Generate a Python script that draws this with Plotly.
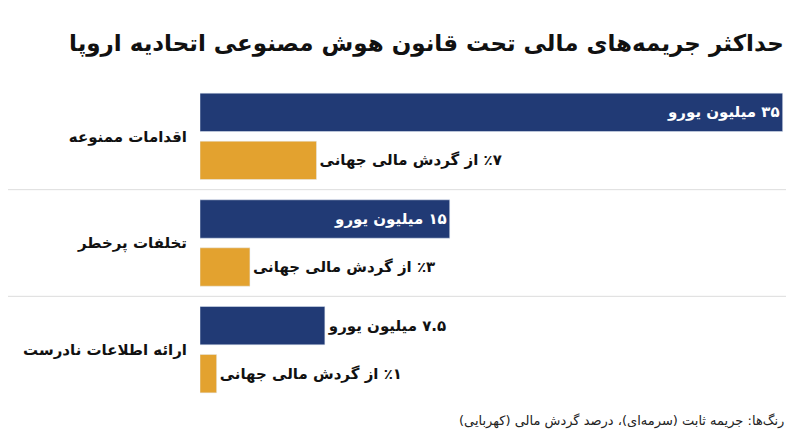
import plotly.graph_objects as go

# data
categories = ["اقدامات ممنوعه", "تخلفات پرخطر", "ارائه اطلاعات نادرست"]
fixed_fine = [35, 15, 7.5]          # million euro
turnover_pct = [7, 3, 1]            # percent of global turnover
fixed_labels = ["۳۵ میلیون یورو", "۱۵ میلیون یورو", "۷.۵ میلیون یورو"]
pct_labels = ["٪۷ از گردش مالی جهانی", "٪۳ از گردش مالی جهانی", "٪۱ از گردش مالی جهانی"]

NAVY = "#213a75"
AMBER = "#e3a22f"
FONT = "DejaVu Sans, Noto Sans, sans-serif"
RLM = "\u200f"

pos = list(range(len(categories)))
fig = go.Figure()

fig.add_trace(go.Bar(
    x=fixed_fine, y=[p - 0.225 for p in pos], orientation="h", width=0.36,
    marker_color=NAVY, text=["<b>%s%s</b>" % (RLM, t) for t in fixed_labels],
    textposition=["inside", "inside", "outside"],
    insidetextanchor="end",
    insidetextfont=dict(color="white", size=15, family=FONT),
    outsidetextfont=dict(color="#111", size=15, family=FONT),
    cliponaxis=False, hoverinfo="skip",
))
fig.add_trace(go.Bar(
    x=turnover_pct, y=[p + 0.225 for p in pos], orientation="h", width=0.36,
    marker_color=AMBER, text=["<b>%s%s</b>" % (RLM, t) for t in pct_labels],
    textposition="outside",
    outsidetextfont=dict(color="#111", size=15, family=FONT),
    cliponaxis=False, hoverinfo="skip",
))

# separators between groups
for yv in [0.5, 1.5]:
    fig.add_shape(type="line", xref="paper", yref="y", x0=-0.33, x1=1.0,
                  y0=yv, y1=yv, line=dict(color="#dddddd", width=1))

fig.add_annotation(text="<b>حداکثر جریمه‌های مالی تحت قانون هوش مصنوعی اتحادیه اروپا</b>",
                   xref="paper", yref="paper", x=1.0, y=1.0, yshift=55,
                   xanchor="right", showarrow=False,
                   font=dict(size=23, color="#111", family=FONT))
fig.add_annotation(text="رنگ‌ها: جریمه ثابت (سرمه‌ای)، درصد گردش مالی (کهربایی)",
                   xref="paper", yref="paper", x=1.0, y=0, yshift=-28,
                   xanchor="right", showarrow=False,
                   font=dict(size=13, color="#222", family=FONT))

fig.update_layout(
    width=800, height=447, showlegend=False,
    plot_bgcolor="white", paper_bgcolor="white",
    margin=dict(l=192, r=22, t=75, b=52),
    font=dict(family=FONT),
    xaxis=dict(range=[0, 35.2], visible=False),
    yaxis=dict(range=[2.5, -0.5], tickvals=pos, ticktext=["<b>%s</b>" % c for c in categories],
               tickfont=dict(size=15, color="#111", family=FONT),
               showgrid=False, zeroline=False, ticks="", ticklabelstandoff=12),
)

fig.write_html("out.html")
